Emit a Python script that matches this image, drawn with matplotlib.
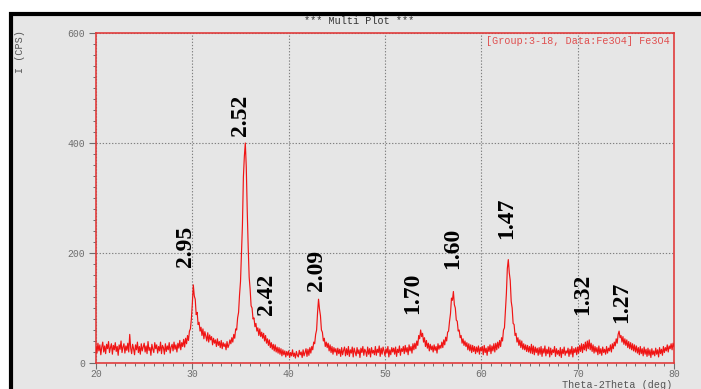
"""XRD pattern of Fe3O4 powder with d-spacing labels on the reflections."""
import matplotlib
matplotlib.use("Agg")
import matplotlib.pyplot as plt
import numpy as np
from matplotlib.patches import Rectangle
from matplotlib.ticker import MultipleLocator

RED = "#f01414"
LABEL_RED = "#e05050"
PANEL = "#e6e6e6"
TICK_GRAY = "#6e6e6e"
MONO = "Liberation Mono"

# scan start / step (deg 2-theta)
TWO_THETA_START = 20.0
TWO_THETA_STEP = 0.1

# intensity (CPS), one row per degree: 20.0 ... 20.9, 21.0 ... 80.0
intensity = [
    30, 18, 36, 22, 33, 15, 29, 38, 20, 31,
    17, 34, 26, 39, 19, 28, 35, 16, 32, 24,
    37, 21, 30, 14, 33, 25, 40, 19, 29, 35,
    18, 31, 23, 36, 20, 52, 27, 17, 34, 26,
    15, 33, 24, 38, 19, 30, 16, 35, 22, 29,
    36, 20, 31, 17, 39, 23, 28, 14, 34, 25,
    19, 37, 26, 33, 18, 30, 22, 38, 17, 32,
    28, 16, 35, 21, 31, 24, 37, 18, 29, 34,
    22, 38, 25, 33, 20, 36, 27, 41, 24, 37,
    30, 43, 29, 45, 35, 50, 41, 58, 62, 80,
    108, 142, 122, 116, 88, 92, 70, 74, 58, 65,    # 30
    50, 62, 44, 57, 49, 40, 55, 38, 51, 42,
    48, 33, 45, 36, 42, 30, 44, 32, 39, 28,
    41, 26, 37, 30, 35, 24, 39, 28, 33, 42,
    35, 46, 38, 52, 45, 62, 60, 82, 92, 124,
    148, 198, 250, 338, 376, 400, 356, 276, 210, 156,
    134, 104, 100, 80, 82, 66, 72, 58, 64, 50,
    62, 48, 56, 45, 54, 40, 50, 36, 44, 32,
    42, 28, 37, 25, 34, 22, 33, 20, 29, 18,
    28, 16, 26, 13, 24, 15, 22, 11, 21, 14,
    22, 10, 19, 13, 24, 12, 18, 9, 21, 14,         # 40
    11, 23, 15, 20, 10, 24, 13, 19, 26, 12,
    25, 14, 28, 18, 30, 24, 38, 35, 52, 60,
    92, 116, 98, 86, 60, 56, 40, 45, 30, 38,
    28, 36, 22, 33, 19, 30, 16, 28, 20, 26,
    14, 27, 17, 25, 12, 28, 15, 23, 29, 13,
    26, 15, 30, 12, 24, 18, 29, 11, 27, 20,
    13, 28, 17, 24, 10, 27, 19, 30, 14, 25,
    21, 12, 29, 16, 26, 11, 28, 18, 23, 15,
    30, 14, 25, 19, 31, 12, 27, 16, 29, 22,
    13, 26, 18, 30, 11, 24, 15, 28, 20, 27,        # 50
    16, 29, 12, 25, 19, 31, 14, 26, 21, 30,
    17, 32, 20, 28, 15, 33, 22, 30, 18, 35,
    24, 36, 26, 40, 32, 50, 44, 60, 48, 54,
    38, 46, 30, 41, 27, 36, 22, 34, 24, 31,
    20, 33, 23, 30, 18, 35, 25, 32, 27, 38,
    28, 42, 33, 47, 40, 56, 58, 76, 90, 118,
    114, 130, 106, 100, 78, 76, 58, 60, 46, 50,
    36, 44, 32, 40, 30, 37, 24, 35, 22, 33,
    19, 32, 21, 30, 17, 29, 20, 31, 16, 28,
    22, 30, 15, 32, 19, 27, 14, 30, 21, 33,        # 60
    17, 31, 22, 35, 20, 36, 24, 38, 27, 41,
    30, 46, 40, 60, 64, 96, 126, 172, 188, 164,
    150, 112, 100, 72, 70, 50, 54, 38, 46, 32,
    42, 28, 40, 25, 35, 24, 33, 21, 32, 20,
    30, 18, 34, 17, 31, 15, 29, 19, 27, 14,
    28, 16, 30, 12, 26, 18, 31, 13, 25, 17,
    29, 11, 27, 15, 24, 19, 30, 12, 26, 16,
    23, 13, 28, 10, 25, 17, 29, 14, 22, 18,
    27, 12, 25, 16, 30, 11, 26, 19, 28, 15,
    29, 18, 32, 21, 35, 19, 34, 24, 38, 22,        # 70
    40, 26, 42, 24, 36, 21, 33, 18, 30, 20,
    28, 15, 31, 17, 26, 14, 29, 19, 25, 16,
    30, 18, 27, 22, 33, 20, 35, 26, 38, 31,
    44, 36, 52, 58, 46, 50, 38, 48, 34, 44,
    32, 42, 28, 39, 26, 37, 24, 35, 22, 33,
    20, 31, 18, 28, 15, 30, 17, 26, 13, 29,
    16, 25, 12, 27, 14, 24, 10, 26, 15, 22,
    13, 27, 16, 24, 11, 28, 17, 25, 14, 30,
    19, 28, 22, 33, 20, 31, 26, 35, 24, 36,
    30,
]

# d-spacing labels (angstrom) and where they sit (2-theta, CPS)
d_labels = ["2.95", "2.52", "2.42", "2.09", "1.70", "1.60", "1.47", "1.32", "1.27"]
label_x = [29.25, 34.95, 37.65, 42.85, 52.9, 57.05, 62.65, 70.55, 74.6]
label_y = [212, 450, 124, 169, 127, 209, 264, 125, 111]

two_theta = TWO_THETA_START + TWO_THETA_STEP * np.arange(len(intensity))

fig = plt.figure(figsize=(7.01, 3.89), dpi=100)
fig.patch.set_facecolor("white")

# grey window panel with a heavy black frame
W, H = 701.0, 389.0
fig.add_artist(Rectangle((10.5 / W, -10 / H), 720 / W, (389 - 14 + 10) / H,
                         transform=fig.transFigure, facecolor=PANEL,
                         edgecolor="black", linewidth=3, zorder=0))

ax = fig.add_axes([96 / W, 1 - 363 / H, (674 - 96) / W, (363 - 33) / H])
ax.set_facecolor("none")
ax.plot(two_theta, intensity, color=RED, lw=0.85, zorder=3)

ax.set_xlim(20, 80)
ax.set_ylim(0, 600)
ax.xaxis.set_major_locator(MultipleLocator(10))
ax.xaxis.set_minor_locator(MultipleLocator(1))
ax.yaxis.set_major_locator(MultipleLocator(200))
ax.yaxis.set_minor_locator(MultipleLocator(20))
for s in ax.spines.values():
    s.set_color("#e03c3c")
    s.set_linewidth(1.2)
ax.tick_params(which="major", direction="out", length=5, width=0.8,
               colors=TICK_GRAY, labelsize=7)
ax.tick_params(axis="x", which="major", length=4, pad=0.5)
ax.tick_params(axis="y", which="major", pad=3)
ax.tick_params(which="minor", direction="out", length=2.5, width=0.7,
               colors=TICK_GRAY)
for lab in ax.get_xticklabels() + ax.get_yticklabels():
    lab.set_family(MONO)
ax.grid(True, which="major", color="#808080", ls=(0, (1.2, 1.6)), lw=0.8)
ax.set_axisbelow(True)

# d-spacing annotations
for txt, x, y in zip(d_labels, label_x, label_y):
    ax.text(x, y, txt, rotation=90, ha="center", va="center",
            family="Liberation Serif", fontweight="bold", fontsize=17,
            color="black", zorder=4)

ax.text(0.9935, 0.992, "[Group:3-18, Data:Fe3O4] Fe3O4", transform=ax.transAxes,
        ha="right", va="top", family=MONO, fontsize=7.3, color=LABEL_RED)

fig.text(359 / W, 1 - 21 / H, "*** Multi Plot ***", ha="center", va="center",
         family=MONO, fontsize=7.3, color="#333333")
fig.text(20 / W, 1 - 52 / H, "I (CPS)", rotation=90, ha="center", va="center",
         family=MONO, fontsize=7.3, color="#555555")
fig.text(672 / W, 1 - 385.5 / H, "Theta-2Theta (deg)", ha="right", va="center",
         family=MONO, fontsize=7.3, color="#555555")

fig.savefig("out.png", dpi=100)
